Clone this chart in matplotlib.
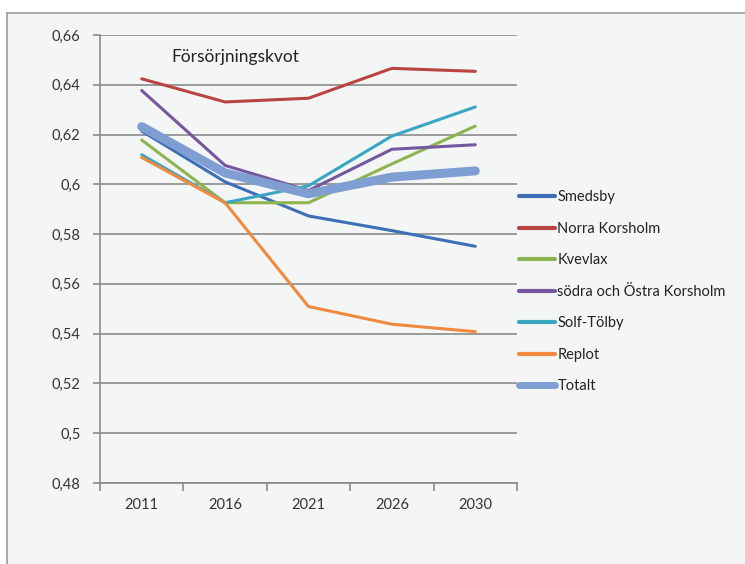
import matplotlib
matplotlib.use("Agg")
import matplotlib.pyplot as plt
from matplotlib import ticker
from matplotlib.patches import Rectangle

years = ['2011', '2016', '2021', '2026', '2030']

smedsby = [0.6214, 0.6010, 0.5873, 0.5814, 0.5751]
norra_korsholm = [0.6424, 0.6331, 0.6346, 0.6466, 0.6454]
kvevlax = [0.6178, 0.5926, 0.5926, 0.6082, 0.6234]
sodra_ostra = [0.6377, 0.6076, 0.5975, 0.6141, 0.6159]
solf_tolby = [0.6119, 0.5926, 0.5994, 0.6194, 0.6311]
replot = [0.6108, 0.5926, 0.5509, 0.5438, 0.5408]
totalt = [0.6232, 0.6046, 0.5962, 0.6029, 0.6054]

names = ['Smedsby', 'Norra Korsholm', 'Kvevlax', 'södra och Östra Korsholm',
         'Solf-Tölby', 'Replot', 'Totalt']
series = [smedsby, norra_korsholm, kvevlax, sodra_ostra, solf_tolby, replot, totalt]
colors = ['#3c6fb5', '#b94441', '#8db450', '#7557a0', '#39a6c2', '#ef8a3e', '#7f9fd2']
widths = [2.2, 2.2, 2.2, 2.2, 2.2, 2.2, 6.5]

plt.rcParams['font.family'] = ['Lato', 'DejaVu Sans']

fig = plt.figure(figsize=(7.45, 5.64), dpi=100)
fig.patch.set_facecolor('white')
# chart frame, behind everything
frame = Rectangle((7 / 745, -0.05), 1.0, 1 - 13 / 564 + 0.05,
                  transform=fig.transFigure, facecolor='#f4f6f6',
                  edgecolor='#9a9a9a', linewidth=1.2, zorder=-10)
fig.patches.append(frame)

ax = fig.add_axes([100 / 745, 1 - 483 / 564, 417 / 745, 448 / 564])
ax.set_facecolor('none')

x = range(len(years))
for vals, name, c, w in zip(series, names, colors, widths):
    ax.plot(x, vals, color=c, linewidth=w, label=name,
            solid_capstyle='round', solid_joinstyle='round')

ax.set_xlim(-0.5, len(years) - 0.5)
ax.set_ylim(0.48, 0.66)
ax.set_yticks([0.48 + 0.02 * i for i in range(10)])
ax.yaxis.set_major_formatter(ticker.FuncFormatter(
    lambda v, p: ('%g' % round(v, 2)).replace('.', ',')))
ax.set_xticks(list(x))
ax.set_xticklabels(years)
ax.set_xticks([i - 0.5 for i in range(len(years) + 1)], minor=True)
ax.tick_params(axis='x', which='major', length=0, pad=11, labelsize=10.5, labelcolor='#333333')
ax.tick_params(axis='x', which='minor', length=6, color='#8a8a8a', width=1.2)
ax.tick_params(axis='y', length=5, color='#8a8a8a', width=1.2, labelsize=10.5,
               labelcolor='#333333', pad=9)

ax.grid(axis='y', color='#8a8a8a', linewidth=1.2)
ax.set_axisbelow(True)
for s in ['top', 'right']:
    ax.spines[s].set_visible(False)
for s in ['left', 'bottom']:
    ax.spines[s].set_color('#8a8a8a')
    ax.spines[s].set_linewidth(1.2)

ax.text(0.172, 0.95, 'Försörjningskvot', transform=ax.transAxes,
        fontsize=12.5, color='#222222', va='center')

leg = ax.legend(loc='center left', bbox_to_anchor=(513 / 745, 1 - 292 / 564),
                bbox_transform=fig.transFigure, frameon=False, fontsize=10.5,
                handlelength=2.5, handletextpad=0.15, labelspacing=1.2,
                borderaxespad=0)
for line in leg.get_lines()[:-1]:
    line.set_linewidth(3)
leg.get_lines()[-1].set_linewidth(5)
for t in leg.get_texts():
    t.set_color('#222222')

fig.savefig('out.png', dpi=100, facecolor=fig.get_facecolor())
